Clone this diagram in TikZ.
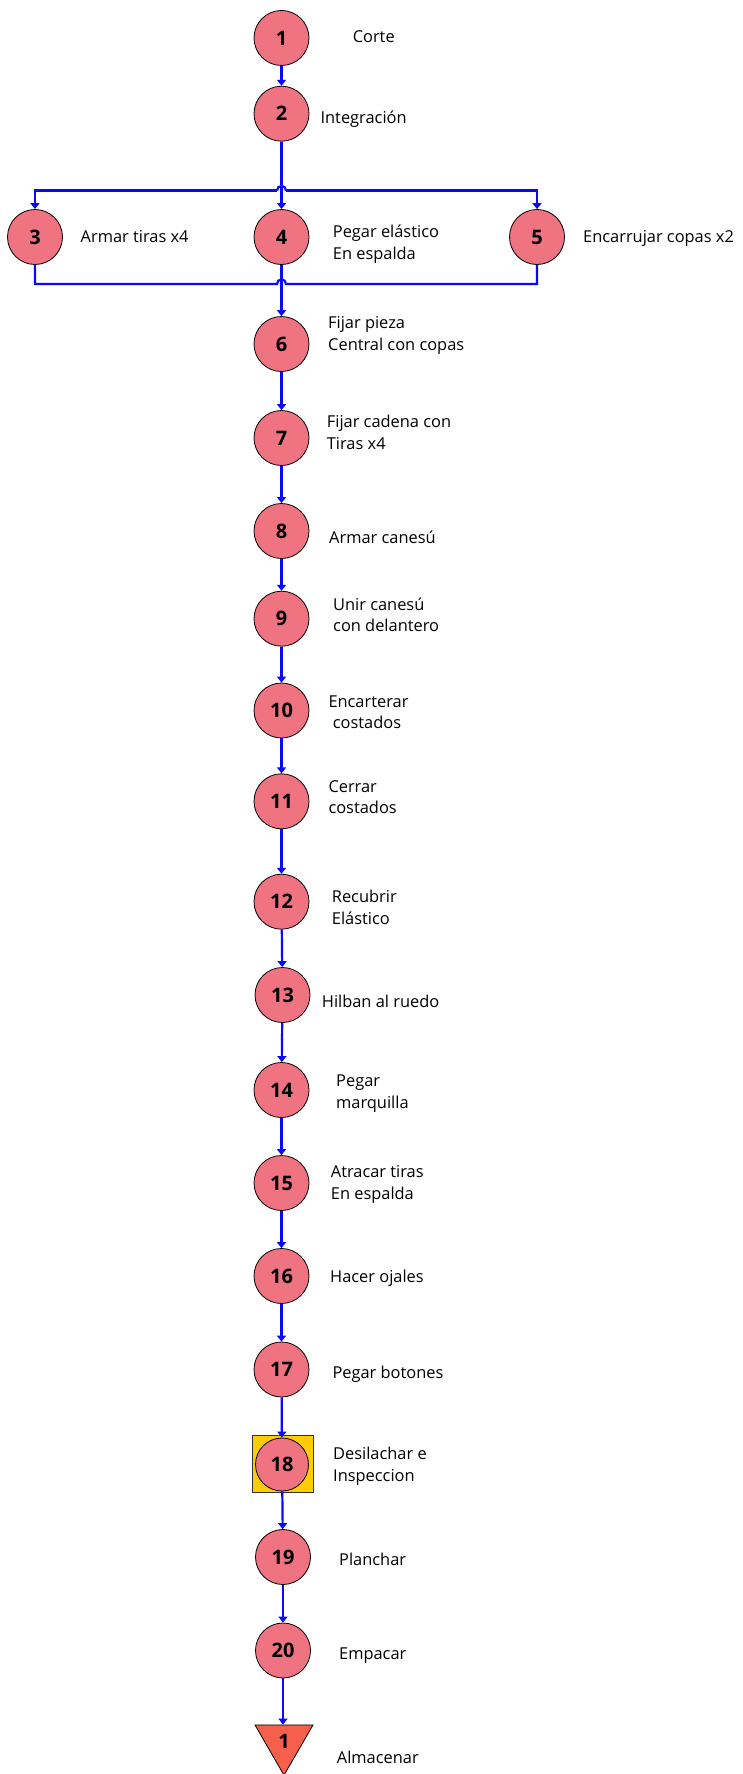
\documentclass[tikz,border=0pt]{standalone}
\usepackage{fontspec}
\setmainfont{Open Sans}
\usetikzlibrary{arrows.meta,shapes.geometric}
\definecolor{procfill}{RGB}{240,115,130}
\definecolor{storefill}{RGB}{245,95,75}
\definecolor{inspfill}{RGB}{255,204,0}
\definecolor{flowblue}{RGB}{10,10,245}
\tikzset{
  procnode/.style={circle, draw=black, line width=0.8pt, fill=procfill, minimum size=55pt, inner sep=0pt, font=\fontsize{20}{20}\selectfont\bfseries},
  inspnode/.style={rectangle, draw=black!80, line width=0.8pt, fill=inspfill, minimum width=61pt, minimum height=57pt, inner sep=0pt},
  storenode/.style={regular polygon, regular polygon sides=3, shape border rotate=180, draw=black, line width=0.8pt, fill=storefill, minimum size=67pt, inner sep=0pt, font=\fontsize{20}{20}\selectfont\bfseries},
  lbl/.style={anchor=base west, align=left, inner sep=0pt, font=\fontsize{16.4}{21.5}\selectfont},
  flowline/.style={draw=flowblue, line width=2.2pt},
  flowarrow/.style={flowline, -{Triangle[length=6pt,width=9pt]}}
}
\begin{document}
\begin{tikzpicture}[x=1pt,y=-1pt]
\useasboundingbox (0,0) rectangle (742,1774);
% nodes
\node[procnode] (n1) at (281.5,38) {1};
\node[procnode] (n2) at (281.5,113.7) {2};
\node[procnode] (n3) at (35,237) {3};
\node[procnode] (n4) at (281.5,237) {4};
\node[procnode] (n5) at (537,237) {5};
\node[procnode] (n6) at (281.5,344) {6};
\node[procnode] (n7) at (281.5,438) {7};
\node[procnode] (n8) at (281.5,531) {8};
\node[procnode] (n9) at (281.5,618.7) {9};
\node[procnode] (n10) at (281.5,710.5) {10};
\node[procnode] (n11) at (281.5,801.3) {11};
\node[procnode] (n12) at (281.5,901.7) {12};
\node[procnode] (n13) at (282.5,995) {13};
\node[procnode] (n14) at (281.5,1090) {14};
\node[procnode] (n15) at (281.5,1183) {15};
\node[procnode] (n16) at (281.5,1276) {16};
\node[procnode] (n17) at (281.5,1369.5) {17};
\node[inspnode] (q18) at (282.5,1464) {};
\node[procnode, minimum size=53pt] (n18) at (282,1464.5) {18};
\node[procnode] (n19) at (283,1557) {19};
\node[procnode] (n20) at (283,1650.5) {20};
\node[storenode] (st) at (284,1741.7) {1};
% labels (base = baseline of last line)
\node[lbl] (t1) at (352.6,43) {Corte};
\node[lbl] (t2) at (320.4,124) {Integración};
\node[lbl] (t3) at (80.5,242.7) {Armar tiras x4};
\node[lbl] (t4) at (332.7,259.3) {Pegar elástico\\En espalda};
\node[lbl] (t5) at (583,242.7) {Encarrujar copas x2};
\node[lbl] (t6) at (328,350) {Fijar pieza\\Central con copas};
\node[lbl] (t7) at (326.7,449.3) {Fijar cadena con\\Tiras x4};
\node[lbl] (t8) at (329,543.3) {Armar canesú};
\node[lbl] (t9) at (333,631.7) {Unir canesú\\con delantero};
\node[lbl] (t10) at (328.3,728.7) {Encarterar\\\hspace*{4.4pt}costados};
\node[lbl] (t11) at (328.3,813.7) {Cerrar\\costados};
\node[lbl] (t12) at (331.7,924) {Recubrir\\Elástico};
\node[lbl] (t13) at (321.7,1007.7) {Hilban al ruedo};
\node[lbl] (t14) at (336,1108.3) {Pegar\\marquilla};
\node[lbl] (t15) at (330.7,1199) {Atracar tiras\\En espalda};
\node[lbl] (t16) at (330,1282.7) {Hacer ojales};
\node[lbl] (t17) at (332.3,1378.3) {Pegar botones};
\node[lbl] (t18) at (333,1481) {Desilachar e\\Inspeccion};
\node[lbl] (t19) at (339,1565) {Planchar};
\node[lbl] (t20) at (339,1659) {Empacar};
\node[lbl] (tst) at (336.7,1763.3) {Almacenar};
% branch and merge
\coordinate (split) at (281.5,190.5);
\coordinate (join) at (281.5,284);
\draw[flowarrow] (n1) -- (n2);
\draw[flowarrow] (n2) -- (n4);
\draw[flowarrow] ([xshift=-4.5pt]split) -- (split -| n3) -- (n3.north);
\draw[flowarrow] ([xshift=4.5pt]split) -- (split -| n5) -- (n5.north);
\draw[flowline] ([xshift=-4.5pt]split) .. controls +(0,-6) and +(0,-6) .. ([xshift=4.5pt]split);
\draw[flowline] (n3.south) -- (n3.south |- join) -- ([xshift=-4.5pt]join) .. controls +(0,-6) and +(0,-6) .. ([xshift=4.5pt]join) -- (n5.south |- join) -- (n5.south);
\draw[flowarrow] (n4) -- (n6);
\draw[flowarrow] (n6) -- (n7);
\draw[flowarrow] (n7) -- (n8);
\draw[flowarrow] (n8) -- (n9);
\draw[flowarrow] (n9) -- (n10);
\draw[flowarrow] (n10) -- (n11);
\draw[flowarrow] (n11) -- (n12);
\draw[flowarrow] (n12) -- (n13);
\draw[flowarrow] (n13) -- (n14);
\draw[flowarrow] (n14) -- (n15);
\draw[flowarrow] (n15) -- (n16);
\draw[flowarrow] (n16) -- (n17);
\draw[flowarrow] (n17) -- (n18);
\draw[flowarrow] (n18) -- (n19);
\draw[flowarrow] (n19) -- (n20);
\draw[flowarrow] (n20.south) -- (n20.south |- st.north);
\end{tikzpicture}
\end{document}
